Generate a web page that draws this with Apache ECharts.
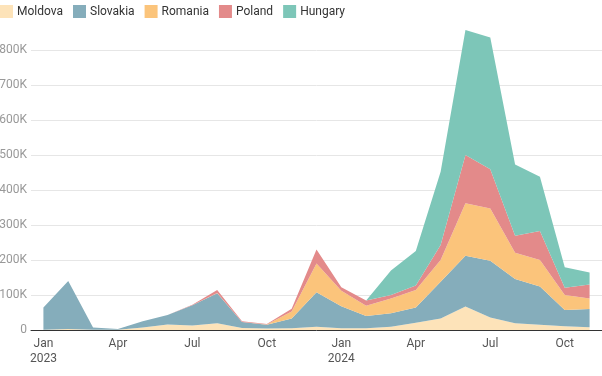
<!DOCTYPE html>
<html>
<head>
<meta charset="utf-8">
<script src="https://cdn.jsdelivr.net/npm/echarts@6/dist/echarts.min.js"></script>
<style>
html, body { margin: 0; padding: 0; background: #fff; }
#main { width: 602px; height: 376px; }
</style>
</head>
<body>
<div id="main"></div>
<script>
// months, Jan 2023 .. Nov 2024
var months = [ 'Jan 2023', 'Feb 2023', 'Mar 2023', 'Apr 2023', 'May 2023', 'Jun 2023',
		'Jul 2023', 'Aug 2023', 'Sep 2023', 'Oct 2023', 'Nov 2023', 'Dec 2023',
		'Jan 2024', 'Feb 2024', 'Mar 2024', 'Apr 2024', 'May 2024', 'Jun 2024',
		'Jul 2024', 'Aug 2024', 'Sep 2024', 'Oct 2024', 'Nov 2024' ];
var moldova = [ 1000, 3000, 1000, 1000, 7000, 16000, 13000, 19000, 6000, 4000, 5000, 9000,
		5000, 5000, 9000, 21000, 33000, 67000, 36000, 19000, 15000, 11000, 8000 ];
var slovakia = [ 63000, 137000, 6000, 2000, 18000, 27000, 58000, 86000, 17000, 11000, 28000, 99000,
		63000, 35000, 39000, 43000, 105000, 145000, 162000, 127000, 109000, 46000, 52000 ];
var romania = [ 0, 0, 0, 0, 0, 0, 0, 1000, 0, 1000, 20000, 82000,
		44000, 29000, 42000, 50000, 62000, 150000, 149000, 75000, 76000, 43000, 30000 ];
var poland = [ 0, 0, 0, 0, 0, 0, 1000, 8000, 2000, 1000, 8000, 40000,
		10000, 15000, 10000, 13000, 43000, 138000, 112000, 48000, 83000, 21000, 40000 ];
var hungary = [ 0, 0, 0, 0, 0, 0, 0, 0, 0, 0, 0, 0,
		0, 0, 70000, 99000, 209000, 357000, 377000, 204000, 155000, 58000, 34000 ];

var names = [ 'Moldova', 'Slovakia', 'Romania', 'Poland', 'Hungary' ];
var values = [ moldova, slovakia, romania, poland, hungary ];
var colors = [ '#fde3b9', '#85adbb', '#fbc47b', '#e38a8a', '#7dc6b8' ];

var myChart = echarts.init(document.getElementById('main'));
var option = {
	color : colors,
	textStyle : {
		fontFamily : 'Roboto'
	},
	animation : false,
	legend : {
		left : 0,
		top : 5,
		padding : 0,
		icon : 'rect',
		itemWidth : 13,
		itemHeight : 13,
		itemGap : 10,
		textStyle : {
			color : '#333',
			fontSize : 12,
			padding : [ 0, 0, 0, -1 ]
		},
		data : names
	},
	grid : {
		left : 31,
		right : 0,
		top : 50,
		bottom : 46,
		outerBoundsMode : 'none'
	},
	xAxis : {
		type : 'category',
		boundaryGap : true,
		data : months,
		axisLine : {
			lineStyle : {
				color : '#333'
			}
		},
		axisTick : {
			show : false
		},
		axisLabel : {
			interval : 2,
			color : '#555',
			fontSize : 12,
			lineHeight : 15,
			margin : 6,
			formatter : function(v) {
				var p = v.split(' ');
				return p[0] === 'Jan' ? p[0] + '\n' + p[1] : p[0];
			}
		}
	},
	yAxis : {
		type : 'value',
		min : 0,
		max : 800000,
		interval : 100000,
		axisLine : {
			show : false
		},
		axisTick : {
			show : false
		},
		axisLabel : {
			color : '#999',
			fontSize : 12,
			margin : 4,
			formatter : function(v) {
				return v === 0 ? '0' : (v / 1000) + 'K';
			}
		},
		splitLine : {
			lineStyle : {
				color : '#e6e6e6'
			}
		}
	},
	series : names.map(function(n, i) {
		return {
			name : n,
			type : 'line',
			stack : 'total',
			symbol : 'none',
			clip : false,
			lineStyle : {
				width : 0
			},
			areaStyle : {
				opacity : 1
			},
			data : values[i]
		};
	})
};
myChart.setOption(option);
</script>
</body>
</html>
